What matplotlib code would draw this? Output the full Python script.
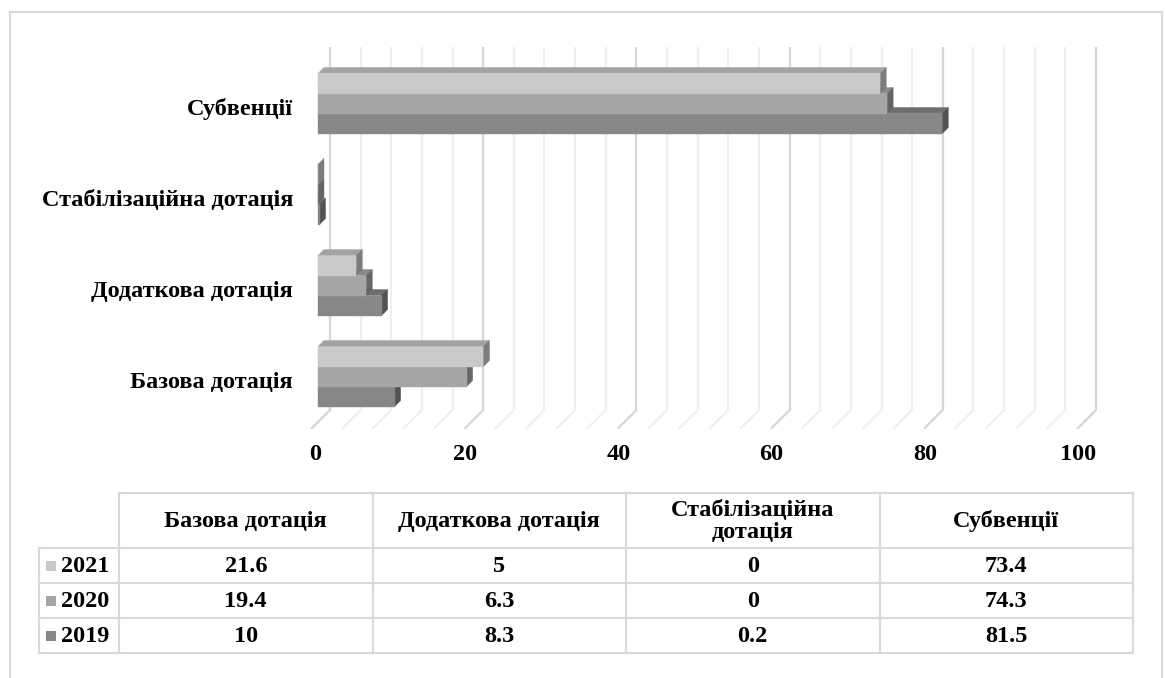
import matplotlib
matplotlib.use('Agg')
import matplotlib.pyplot as plt
from matplotlib.patches import Polygon, Rectangle

categories = ['Базова дотація', 'Додаткова дотація', 'Стабілізаційна дотація', 'Субвенції']
header_labels = ['Базова дотація', 'Додаткова дотація', 'Стабілізаційна\nдотація', 'Субвенції']
years = ['2021', '2020', '2019']
values_2021 = [21.6, 5, 0, 73.4]
values_2020 = [19.4, 6.3, 0, 74.3]
values_2019 = [10, 8.3, 0.2, 81.5]
x_ticks = [0, 20, 40, 60, 80, 100]

series = [values_2021, values_2020, values_2019]
front_colors = ['#c9c9c9', '#a5a5a5', '#878787']
top_colors = ['#a3a3a3', '#8a8a8a', '#6e6e6e']
side_colors = ['#7c7c7c', '#666666', '#525252']

W, H = 1165, 678
plt.rcParams['font.family'] = ['Liberation Serif', 'DejaVu Serif']
plt.rcParams['font.weight'] = 'bold'
FS = 17.5

fig = plt.figure(figsize=(W / 100, H / 100), dpi=100)
fig.patch.set_facecolor('white')

# plot area: front floor edge, x 0..100 and four category slots
ax_l, ax_r, ax_t, ax_b = 312, 1078, 64, 428
ax = fig.add_axes([ax_l / W, 1 - ax_b / H, (ax_r - ax_l) / W, (ax_b - ax_t) / H])
ax.set_xlim(0, 100)
ax.set_ylim(-0.5, 3.5)
ax.axis('off')

sx = 100 / (ax_r - ax_l)   # data units per pixel
sy = 4 / (ax_b - ax_t)

floor_depth = 18
bar_gap = 6
bar_depth = 6
bar_h = 20 * sy

# back wall gridlines and floor diagonals
for v in range(0, 101, 4):
    col = '#d6d6d6' if v % 20 == 0 else '#efefef'
    xb = v + floor_depth * sx
    yb = -0.5 + floor_depth * sy
    ax.plot([xb, xb], [yb, 3.5 + (floor_depth - 1) * sy], color=col, lw=1.6,
            clip_on=False, zorder=1, solid_capstyle='butt')
    ax.plot([v, xb], [-0.5, yb], color=col, lw=1.6, clip_on=False, zorder=1)

# 3d bars: bottom series first so the upper fronts hide the lower tops
z = 2
dx, dy = bar_depth * sx, bar_depth * sy
ox, oy = bar_gap * sx, bar_gap * sy
for ci in range(len(categories)):
    for si in [2, 1, 0]:
        v = series[si][ci]
        y0 = ci + (0.5 - si) * bar_h + oy
        y1 = y0 + bar_h
        x0 = ox
        x1 = ox + v
        top = Polygon([(x0, y1), (x1, y1), (x1 + dx, y1 + dy), (x0 + dx, y1 + dy)],
                      closed=True, fc=top_colors[si], ec=top_colors[si], lw=0.3,
                      clip_on=False, zorder=z)
        side = Polygon([(x1, y0), (x1, y1), (x1 + dx, y1 + dy), (x1 + dx, y0 + dy)],
                       closed=True, fc=side_colors[si], ec=side_colors[si], lw=0.3,
                       clip_on=False, zorder=z + 1)
        ax.add_patch(top)
        ax.add_patch(side)
        ax.barh(y0 + bar_h / 2, v, left=x0, height=bar_h, color=front_colors[si],
                ec=front_colors[si], lw=0.3, clip_on=False, zorder=z + 2)
        z += 3

# category labels and value ticks
for ci, name in enumerate(categories):
    ax.text(-19 * sx, ci, name, ha='right', va='center', fontsize=FS,
            fontweight='bold', clip_on=False)
for t in x_ticks:
    shift = 3 * sx if t == 0 else 0
    ax.text(t + shift, -0.5 - 27 * sy, str(t), ha='center', va='center', fontsize=FS,
            fontweight='bold', clip_on=False)

# data table under the chart, laid out in pixel coordinates
tb = fig.add_axes([0, 0, 1, 1], zorder=-1)
tb.set_xlim(0, W)
tb.set_ylim(H, 0)
tb.axis('off')
grid_col = '#d9d9d9'

# outer chart border
tb.plot([10, 1162], [12, 12], color=grid_col, lw=1.5)
tb.plot([10, 10], [12, H], color=grid_col, lw=1.5)
tb.plot([1162, 1162], [12, H], color=grid_col, lw=1.5)

key_l, col_l, col_r = 39, 119, 1133
col_w = (col_r - col_l) / len(categories)
head_t, head_b, row_h = 493, 548, 35
rows_y = [head_b + row_h * i for i in range(len(years) + 1)]

tb.plot([col_l, col_r], [head_t, head_t], color=grid_col, lw=1.5)
for y in rows_y:
    tb.plot([key_l, col_r], [y, y], color=grid_col, lw=1.5)
tb.plot([key_l, key_l], [head_b, rows_y[-1]], color=grid_col, lw=1.5)
for i in range(len(categories) + 1):
    x = col_l + col_w * i
    tb.plot([x, x], [head_t, rows_y[-1]], color=grid_col, lw=1.5)

for i, h in enumerate(header_labels):
    tb.text(col_l + col_w * (i + 0.5), (head_t + head_b) / 2 + 1, h, ha='center',
            va='center', fontsize=FS, fontweight='bold', linespacing=1.05)

for ri, yr in enumerate(years):
    yc = rows_y[ri] + row_h / 2
    tb.add_patch(Rectangle((46, yc - 5), 10, 10, fc=front_colors[ri], ec='none'))
    tb.text(61, yc + 1, yr, ha='left', va='center', fontsize=FS, fontweight='bold')
    for ci in range(len(categories)):
        v = series[ri][ci]
        tb.text(col_l + col_w * (ci + 0.5), yc + 1, f'{v:g}', ha='center',
                va='center', fontsize=FS, fontweight='bold')

fig.savefig('out.png', dpi=100, facecolor='white')
